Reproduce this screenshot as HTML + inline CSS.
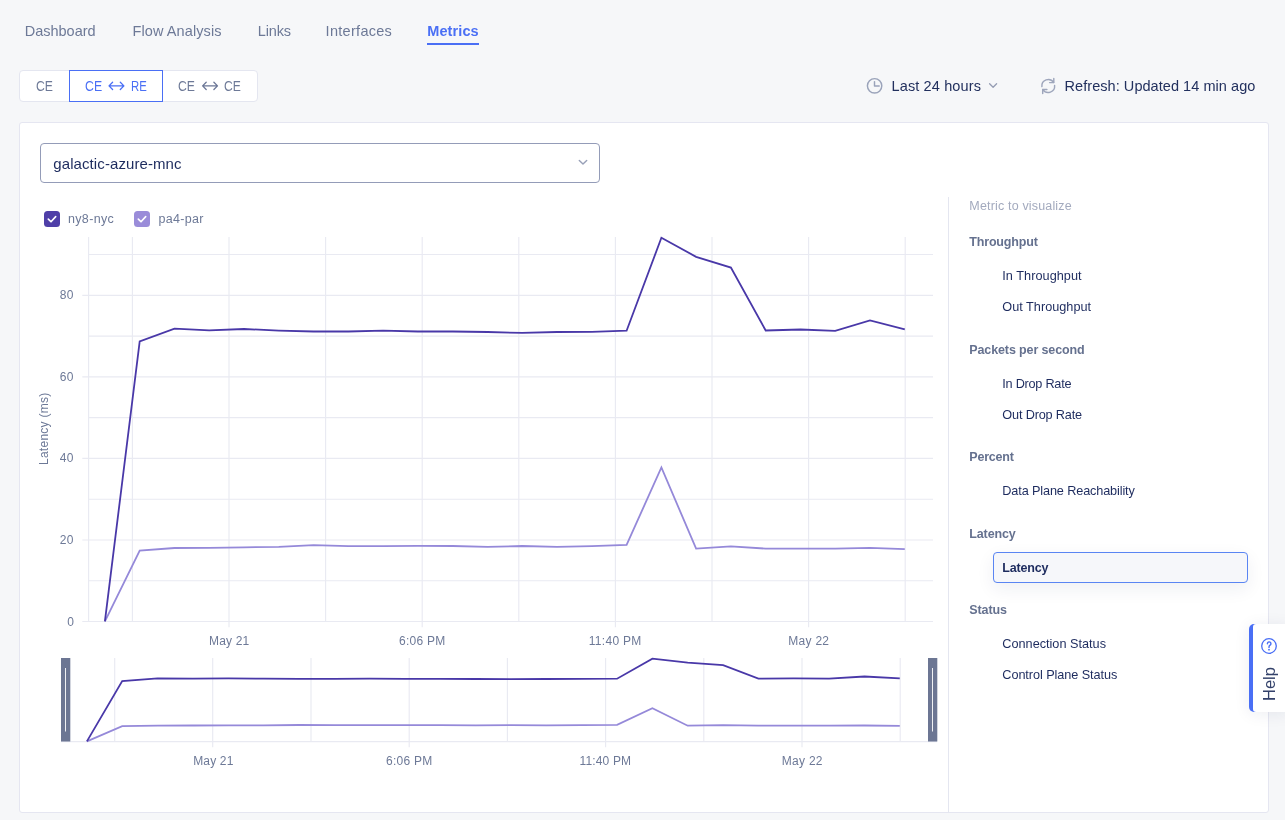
<!DOCTYPE html>
<html><head><meta charset="utf-8"><title>Metrics</title>
<style>
*{box-sizing:border-box;margin:0;padding:0}
html,body{width:1285px;height:820px;overflow:hidden}
body{background:#f6f7f9;font-family:"Liberation Sans",sans-serif;position:relative;color:#1f2d57}
.t{position:absolute;white-space:nowrap;line-height:20px;font-family:"Liberation Sans",sans-serif}
.bg{position:absolute;left:19px;top:70px;width:239px;height:32px;background:#fff;border:1px solid #e4e6f0;border-radius:4px}
.card{position:absolute;left:19px;top:122px;width:1250px;height:691px;background:#fff;border:1px solid #e5e6f1;border-radius:3px}
.sel{position:absolute;left:40px;top:143px;width:560px;height:40px;border:1px solid #949cb8;border-radius:4px;background:#fff}
.cb{position:absolute;width:16px;height:16px;border-radius:3.5px;top:211px}
svg{position:absolute;left:0;top:0;overflow:visible}
</style></head><body>
<div style="position:absolute;left:427px;top:42.7px;width:52px;height:2px;background:#4a6ff5"></div>
<div class="bg"></div>
<div style="position:absolute;left:69px;top:70px;width:94px;height:32px;border:1px solid #4a6ff5;background:#fff"></div>
<div class="card"></div>
<div class="sel"></div>
<div class="cb" style="left:44px;background:#4f3fa8"></div>
<div class="cb" style="left:134px;background:#9a8cd9"></div>
<div style="position:absolute;left:948px;top:197px;width:1px;height:616px;background:#e4e6f0"></div>
<div style="position:absolute;left:993px;top:552px;width:255px;height:31px;border:1px solid #5a85f3;border-radius:4px;background:#f6f7fa;box-shadow:0 6px 18px rgba(30,40,90,.07)"></div>
<div style="position:absolute;left:1249px;top:624px;width:40px;height:88px;background:#4a6ff5;border-radius:5px 0 0 5px;box-shadow:0 2px 16px rgba(30,40,90,.08)"><div style="position:absolute;left:4px;top:0;width:36px;height:88px;background:#fff;border-radius:3px 0 0 3px"></div></div>
<svg width="1285" height="820" viewBox="0 0 1285 820">
<line x1="88.6" y1="254.5" x2="933" y2="254.5" stroke="#e9eaf2" stroke-width="1.15"/>
<line x1="82.3" y1="295.3" x2="933" y2="295.3" stroke="#e9eaf2" stroke-width="1.15"/>
<line x1="88.6" y1="336.1" x2="933" y2="336.1" stroke="#e9eaf2" stroke-width="1.15"/>
<line x1="82.3" y1="376.8" x2="933" y2="376.8" stroke="#e9eaf2" stroke-width="1.15"/>
<line x1="88.6" y1="417.6" x2="933" y2="417.6" stroke="#e9eaf2" stroke-width="1.15"/>
<line x1="82.3" y1="458.4" x2="933" y2="458.4" stroke="#e9eaf2" stroke-width="1.15"/>
<line x1="88.6" y1="499.2" x2="933" y2="499.2" stroke="#e9eaf2" stroke-width="1.15"/>
<line x1="82.3" y1="540.0" x2="933" y2="540.0" stroke="#e9eaf2" stroke-width="1.15"/>
<line x1="88.6" y1="580.7" x2="933" y2="580.7" stroke="#e9eaf2" stroke-width="1.15"/>
<line x1="82.3" y1="621.5" x2="933" y2="621.5" stroke="#e9eaf2" stroke-width="1.15"/>
<line x1="88.6" y1="237" x2="88.6" y2="621.4" stroke="#e9eaf2" stroke-width="1.15"/>
<line x1="132.4" y1="237" x2="132.4" y2="621.4" stroke="#e9eaf2" stroke-width="1.15"/>
<line x1="229.0" y1="237" x2="229.0" y2="627.2" stroke="#e9eaf2" stroke-width="1.15"/>
<line x1="325.6" y1="237" x2="325.6" y2="621.4" stroke="#e9eaf2" stroke-width="1.15"/>
<line x1="422.2" y1="237" x2="422.2" y2="627.2" stroke="#e9eaf2" stroke-width="1.15"/>
<line x1="518.8" y1="237" x2="518.8" y2="621.4" stroke="#e9eaf2" stroke-width="1.15"/>
<line x1="615.4" y1="237" x2="615.4" y2="627.2" stroke="#e9eaf2" stroke-width="1.15"/>
<line x1="712.0" y1="237" x2="712.0" y2="621.4" stroke="#e9eaf2" stroke-width="1.15"/>
<line x1="808.6" y1="237" x2="808.6" y2="627.2" stroke="#e9eaf2" stroke-width="1.15"/>
<line x1="905.2" y1="237" x2="905.2" y2="621.4" stroke="#e9eaf2" stroke-width="1.15"/>
<polyline fill="none" stroke="#9589d9" stroke-width="1.8" points="104.9,621.3 139.7,550.6 174.5,548.0 209.2,547.8 244.0,547.3 278.8,546.9 313.6,545.2 348.3,546.2 383.1,546.2 417.9,545.8 452.7,546.0 487.5,546.9 522.2,546.0 557.0,546.9 591.8,546.2 626.6,544.8 661.4,467.5 696.1,548.6 730.9,546.3 765.7,548.6 800.5,548.6 835.2,548.6 870.0,547.8 904.8,549.1"/>
<polyline fill="none" stroke="#4938a8" stroke-width="1.8" points="104.9,621.3 139.7,341.3 174.5,328.7 209.2,330.4 244.0,329.0 278.8,330.6 313.6,331.5 348.3,331.5 383.1,330.7 417.9,331.5 452.7,331.5 487.5,332.0 522.2,332.9 557.0,332.0 591.8,331.8 626.6,330.7 661.4,237.8 696.1,256.8 730.9,267.6 765.7,330.5 800.5,329.5 835.2,330.8 870.0,320.5 904.8,329.3"/>
<line x1="114.7" y1="658" x2="114.7" y2="741.4" stroke="#e9eaf2" stroke-width="1.15"/>
<line x1="212.7" y1="658" x2="212.7" y2="747.3" stroke="#e9eaf2" stroke-width="1.15"/>
<line x1="311.0" y1="658" x2="311.0" y2="741.4" stroke="#e9eaf2" stroke-width="1.15"/>
<line x1="409.2" y1="658" x2="409.2" y2="747.3" stroke="#e9eaf2" stroke-width="1.15"/>
<line x1="507.4" y1="658" x2="507.4" y2="741.4" stroke="#e9eaf2" stroke-width="1.15"/>
<line x1="605.6" y1="658" x2="605.6" y2="747.3" stroke="#e9eaf2" stroke-width="1.15"/>
<line x1="703.8" y1="658" x2="703.8" y2="741.4" stroke="#e9eaf2" stroke-width="1.15"/>
<line x1="802.0" y1="658" x2="802.0" y2="747.3" stroke="#e9eaf2" stroke-width="1.15"/>
<line x1="900.2" y1="658" x2="900.2" y2="741.4" stroke="#e9eaf2" stroke-width="1.15"/>
<line x1="61" y1="741.6" x2="937" y2="741.6" stroke="#e9eaf2" stroke-width="1.15"/>
<polyline fill="none" stroke="#9589d9" stroke-width="1.8" points="86.9,741.4 122.2,726.1 157.6,725.6 192.9,725.5 228.3,725.4 263.6,725.3 299.0,725.0 334.3,725.2 369.6,725.2 405.0,725.1 440.3,725.2 475.7,725.3 511.0,725.2 546.4,725.3 581.7,725.2 617.1,724.9 652.4,708.2 687.7,725.7 723.1,725.2 758.4,725.7 793.8,725.7 829.1,725.7 864.5,725.5 899.8,725.8"/>
<polyline fill="none" stroke="#4938a8" stroke-width="1.8" points="86.9,741.4 122.2,681.0 157.6,678.3 192.9,678.6 228.3,678.3 263.6,678.7 299.0,678.9 334.3,678.9 369.6,678.7 405.0,678.9 440.3,678.9 475.7,679.0 511.0,679.2 546.4,679.0 581.7,678.9 617.1,678.7 652.4,658.6 687.7,662.7 723.1,665.1 758.4,678.6 793.8,678.4 829.1,678.7 864.5,676.5 899.8,678.4"/>
<rect x="61" y="658" width="9.3" height="83.5" fill="#6c7693"/>
<line x1="65.5" y1="668" x2="65.5" y2="731.5" stroke="#fff" stroke-width="0.9"/>
<rect x="928" y="658" width="9.3" height="83.5" fill="#6c7693"/>
<line x1="932.5" y1="668" x2="932.5" y2="731.5" stroke="#fff" stroke-width="0.9"/>
<!-- button arrows -->
<path d="M112.6,82.3 L109,85.9 L112.6,89.5 M109.2,85.9 H123.8 M120.3,82.3 L123.9,85.9 L120.3,89.5" fill="none" stroke="#4a6ff5" stroke-width="1.3" stroke-linecap="round" stroke-linejoin="round"/>
<path d="M206.2,82.3 L202.6,85.9 L206.2,89.5 M202.8,85.9 H217.4 M213.9,82.3 L217.5,85.9 L213.9,89.5" fill="none" stroke="#6b7696" stroke-width="1.3" stroke-linecap="round" stroke-linejoin="round"/>
<!-- clock -->
<circle cx="874.6" cy="85.8" r="7.2" fill="none" stroke="#9aa3ba" stroke-width="1.45"/>
<path d="M874.5,81.6 V86 H879.2" fill="none" stroke="#9aa3ba" stroke-width="1.45" stroke-linecap="round" stroke-linejoin="round"/>
<!-- header chevron -->
<path d="M989.6,83.8 L993.1,87.3 L996.6,83.8" fill="none" stroke="#959db3" stroke-width="1.3" stroke-linecap="round" stroke-linejoin="round"/>
<!-- refresh -->
<g fill="none" stroke="#9ea6bc" stroke-width="1.45" stroke-linecap="round" stroke-linejoin="round">
<path d="M1041.9,86.6 A6.4,6.4 0 0 1 1053.6,82.4"/>
<path d="M1053.8,78.4 V82.6 H1049.6"/>
<path d="M1054.6,85.4 A6.4,6.4 0 0 1 1042.9,89.6"/>
<path d="M1042.7,93.6 V89.4 H1046.9"/>
</g>
<!-- select chevron -->
<path d="M579.3,160.4 L583,164.1 L586.7,160.4" fill="none" stroke="#98a0b8" stroke-width="1.4" stroke-linecap="round" stroke-linejoin="round"/>
<!-- checkmarks -->
<path d="M48.3,219.1 L51,221.8 L55.7,216.6" fill="none" stroke="#fff" stroke-width="1.6" stroke-linecap="round" stroke-linejoin="round"/>
<path d="M138.3,219.1 L141,221.8 L145.7,216.6" fill="none" stroke="#fff" stroke-width="1.6" stroke-linecap="round" stroke-linejoin="round"/>

</svg>
<svg width="1285" height="820" viewBox="0 0 1285 820">
<circle cx="1269" cy="646" r="7.3" fill="none" stroke="#4a6ff5" stroke-width="1.3"/>
<path d="M1267.4,643.7 a1.75,1.75 0 1 1 2.7,1.45 c-0.75,0.5 -1.1,0.95 -1.1,1.9 v0.35" fill="none" stroke="#4a6ff5" stroke-width="1.4" stroke-linecap="round"/>
<circle cx="1269" cy="649.7" r="0.9" fill="#4a6ff5"/>
</svg>

<div style="position:absolute;left:0;top:0;width:1285px;height:820px;will-change:transform">
<div class="t" style="left:24.7px;top:21.00px;font-size:14.5px;color:#6d7997;letter-spacing:0.0px;">Dashboard</div>
<div class="t" style="left:132.5px;top:21.00px;font-size:14.5px;color:#6d7997;letter-spacing:0.1px;">Flow Analysis</div>
<div class="t" style="left:257.8px;top:21.00px;font-size:14.5px;color:#6d7997;letter-spacing:-0.17px;">Links</div>
<div class="t" style="left:325.6px;top:21.00px;font-size:14.5px;color:#6d7997;letter-spacing:0.29px;">Interfaces</div>
<div class="t" style="left:427.2px;top:21.00px;font-size:14.5px;font-weight:bold;color:#4a6ff5;letter-spacing:0.11px;">Metrics</div>
<div class="t" style="left:35.6px;top:76.00px;font-size:14px;color:#6d7997;letter-spacing:0px;transform-origin:0 50%;transform:scaleX(0.872);">CE</div>
<div class="t" style="left:85.0px;top:76.00px;font-size:14px;color:#4a6ff5;letter-spacing:0px;transform-origin:0 50%;transform:scaleX(0.878);">CE</div>
<div class="t" style="left:130.6px;top:76.00px;font-size:14px;color:#4a6ff5;letter-spacing:0px;transform-origin:0 50%;transform:scaleX(0.811);">RE</div>
<div class="t" style="left:178.4px;top:76.00px;font-size:14px;color:#6d7997;letter-spacing:0px;transform-origin:0 50%;transform:scaleX(0.872);">CE</div>
<div class="t" style="left:224.0px;top:76.00px;font-size:14px;color:#6d7997;letter-spacing:0px;transform-origin:0 50%;transform:scaleX(0.867);">CE</div>
<div class="t" style="left:891.5px;top:76.00px;font-size:14.5px;color:#22305e;letter-spacing:0.13px;">Last 24 hours</div>
<div class="t" style="left:1064.6px;top:76.00px;font-size:14.5px;color:#22305e;letter-spacing:0.05px;">Refresh: Updated 14 min ago</div>
<div class="t" style="left:53.3px;top:153.50px;font-size:15px;color:#1d2b5e;letter-spacing:0.09px;">galactic-azure-mnc</div>
<div class="t" style="left:68.0px;top:209.00px;font-size:12.5px;color:#6d7997;letter-spacing:0.33px;">ny8-nyc</div>
<div class="t" style="left:158.4px;top:209.00px;font-size:12.5px;color:#6d7997;letter-spacing:0.33px;">pa4-par</div>
<div class="t" style="left:969.3px;top:196.00px;font-size:12.5px;color:#a3aabe;letter-spacing:0.17px;">Metric to visualize</div>
<div class="t" style="left:969.3px;top:232.00px;font-size:12.5px;font-weight:bold;color:#65718f;letter-spacing:-0.18px;">Throughput</div>
<div class="t" style="left:1002.3px;top:266.00px;font-size:12.7px;color:#1d2b5e;letter-spacing:0.04px;">In Throughput</div>
<div class="t" style="left:1002.3px;top:297.00px;font-size:12.7px;color:#1d2b5e;letter-spacing:0.01px;">Out Throughput</div>
<div class="t" style="left:969.3px;top:340.00px;font-size:12.5px;font-weight:bold;color:#65718f;letter-spacing:-0.12px;">Packets per second</div>
<div class="t" style="left:1002.3px;top:374.00px;font-size:12.7px;color:#1d2b5e;letter-spacing:-0.25px;">In Drop Rate</div>
<div class="t" style="left:1002.3px;top:405.00px;font-size:12.7px;color:#1d2b5e;letter-spacing:-0.16px;">Out Drop Rate</div>
<div class="t" style="left:969.3px;top:447.00px;font-size:12.5px;font-weight:bold;color:#65718f;letter-spacing:-0.22px;">Percent</div>
<div class="t" style="left:1002.3px;top:481.00px;font-size:12.7px;color:#1d2b5e;letter-spacing:-0.13px;">Data Plane Reachability</div>
<div class="t" style="left:969.3px;top:524.00px;font-size:12.5px;font-weight:bold;color:#65718f;letter-spacing:-0.14px;">Latency</div>
<div class="t" style="left:1002.3px;top:558.00px;font-size:12.5px;font-weight:bold;color:#1d2b5e;letter-spacing:-0.2px;">Latency</div>
<div class="t" style="left:969.3px;top:600.00px;font-size:12.5px;font-weight:bold;color:#65718f;letter-spacing:-0.1px;">Status</div>
<div class="t" style="left:1002.3px;top:634.00px;font-size:12.7px;color:#1d2b5e;letter-spacing:0.0px;">Connection Status</div>
<div class="t" style="left:1002.3px;top:665.00px;font-size:12.7px;color:#1d2b5e;letter-spacing:-0.07px;">Control Plane Status</div>
<div class="t" style="left:59.8px;top:285.00px;font-size:12px;color:#6d7997;letter-spacing:0.34px;">80</div>
<div class="t" style="left:59.8px;top:367.00px;font-size:12px;color:#6d7997;letter-spacing:0.34px;">60</div>
<div class="t" style="left:59.8px;top:448.00px;font-size:12px;color:#6d7997;letter-spacing:0.34px;">40</div>
<div class="t" style="left:59.8px;top:530.00px;font-size:12px;color:#6d7997;letter-spacing:0.34px;">20</div>
<div class="t" style="left:67.2px;top:612.00px;font-size:12px;color:#6d7997;letter-spacing:0.0px;">0</div>
<div class="t" style="left:209.0px;top:631.00px;font-size:12px;color:#6d7997;letter-spacing:0.16px;">May 21</div>
<div class="t" style="left:399.0px;top:631.00px;font-size:12px;color:#6d7997;letter-spacing:0.26px;">6:06 PM</div>
<div class="t" style="left:588.8px;top:631.00px;font-size:12px;color:#6d7997;letter-spacing:0.29px;">11:40 PM</div>
<div class="t" style="left:788.2px;top:631.00px;font-size:12px;color:#6d7997;letter-spacing:0.3px;">May 22</div>
<div class="t" style="left:193.2px;top:751.00px;font-size:12px;color:#6d7997;letter-spacing:0.17px;">May 21</div>
<div class="t" style="left:386.0px;top:751.00px;font-size:12px;color:#6d7997;letter-spacing:0.26px;">6:06 PM</div>
<div class="t" style="left:579.6px;top:751.00px;font-size:12px;color:#6d7997;letter-spacing:0.14px;">11:40 PM</div>
<div class="t" style="left:781.7px;top:751.00px;font-size:12px;color:#6d7997;letter-spacing:0.3px;">May 22</div>
<div class="t" style="left:33.74px;top:465.1px;font-size:12px;color:#6d7997;letter-spacing:0.26px;transform-origin:0 0;transform:rotate(-90deg)">Latency (ms)</div>
<div class="t" style="left:1259.38px;top:700.8px;font-size:16.5px;color:#33416a;letter-spacing:0.01px;transform-origin:0 0;transform:rotate(-90deg)">Help</div>
</div>
</body></html>
